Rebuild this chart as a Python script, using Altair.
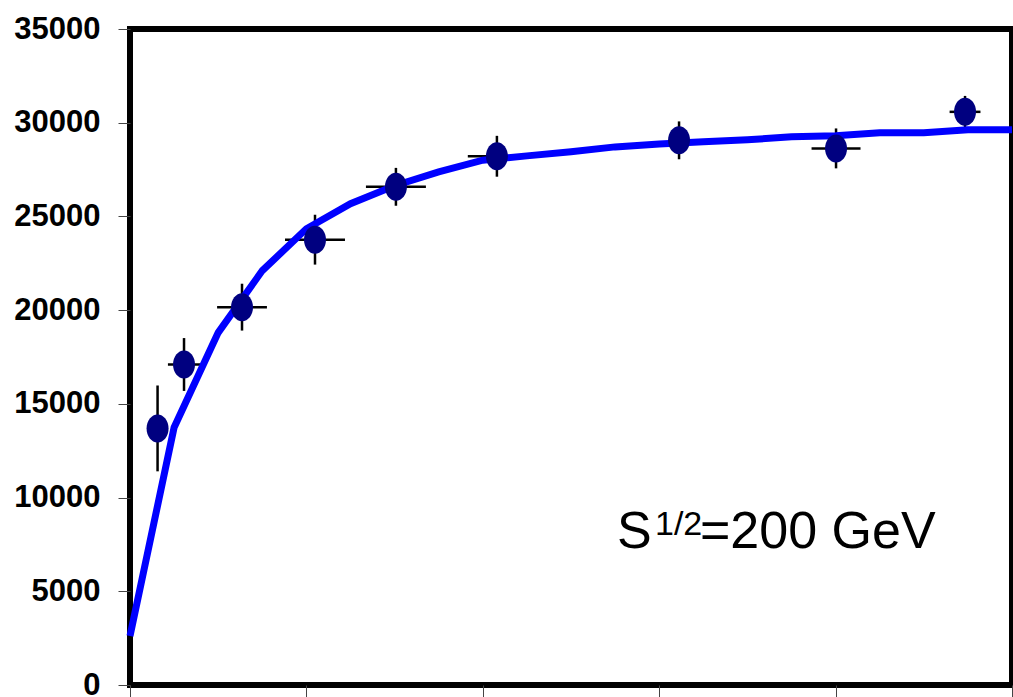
import altair as alt
import pandas as pd

# Data points (x in arbitrary units 0-400, hidden tick labels)
x_pts = [12.5, 24.5, 50.8, 83.9, 120.6, 166.4, 249.0, 320.2, 378.7]
y_pts = [13690, 17100, 20160, 23760, 26580, 28210, 29060, 28630, 30580]
y_err = [2290, 1410, 1250, 1330, 1010, 1090, 1010, 1065, 850]
x_err = [0, 7.3, 11.3, 13.6, 13.6, 13.2, 0, 11.1, 7.0]

# Model curve
curve_x = [0, 20, 40, 60, 80, 100, 120, 140, 160, 180, 200, 220, 240, 260, 280, 300, 320, 340, 360, 380, 400]
curve_y = [2610, 13740, 18800, 22110, 24340, 25680, 26640, 27380, 28000, 28230, 28450,
           28710, 28870, 28980, 29090, 29250, 29300, 29460, 29460, 29620, 29620]

y_ticks = [0, 5000, 10000, 15000, 20000, 25000, 30000, 35000]
x_ticks = [0, 80, 160, 240, 320, 400]

pts = pd.DataFrame({
    "x": x_pts, "y": y_pts,
    "ylo": [a - b for a, b in zip(y_pts, y_err)],
    "yhi": [a + b for a, b in zip(y_pts, y_err)],
    "xlo": [a - b for a, b in zip(x_pts, x_err)],
    "xhi": [a + b for a, b in zip(x_pts, x_err)],
})
curve = pd.DataFrame({"x": curve_x, "y": curve_y})

xs = alt.Scale(domain=[0, 400], nice=False, zero=False)
ys = alt.Scale(domain=[0, 35000], nice=False)

x_axis = alt.Axis(values=x_ticks, labels=False, title=None, domain=False, grid=False,
                  tickSize=12, tickColor="#444", tickWidth=1)
y_axis = alt.Axis(values=y_ticks, title=None, domain=False, grid=False, format="d",
                  tickSize=12, tickColor="#444", tickWidth=1,
                  labelFont="Liberation Sans", labelFontWeight="bold",
                  labelFontSize=31, labelColor="black", labelPadding=18)

base = alt.Chart(pts)

vbars = base.mark_rule(color="black", strokeWidth=2.5).encode(
    x=alt.X("x:Q", scale=xs, axis=x_axis),
    y=alt.Y("ylo:Q", scale=ys, axis=y_axis),
    y2="yhi:Q",
)
hbars = base.mark_rule(color="black", strokeWidth=2.5).encode(
    x=alt.X("xlo:Q", scale=xs),
    x2="xhi:Q",
    y=alt.Y("y:Q", scale=ys),
)
line = alt.Chart(curve).mark_line(color="#0000FF", strokeWidth=7).encode(
    x=alt.X("x:Q", scale=xs),
    y=alt.Y("y:Q", scale=ys),
)
ellipse = "M0,-1 A0.786,1 0 1,1 0,1 A0.786,1 0 1,1 0,-1 Z"
points = base.mark_point(shape=ellipse, size=784, filled=True, color="#000080",
                         opacity=1).encode(
    x=alt.X("x:Q", scale=xs),
    y=alt.Y("y:Q", scale=ys),
)

ann = pd.DataFrame({
    "x": [220.9, 238.1, 258.5],
    "y": [7300, 7990, 7300],
    "t": ["S", "1/2", "=200 GeV"],
    "fs": [52, 34, 52],
})
text_big = alt.Chart(ann[ann.fs == 52]).mark_text(
    font="Liberation Sans", fontSize=52, align="left", baseline="alphabetic", color="black"
).encode(x=alt.X("x:Q", scale=xs), y=alt.Y("y:Q", scale=ys), text="t:N")
text_sup = alt.Chart(ann[ann.fs == 34]).mark_text(
    font="Liberation Sans", fontSize=34, align="left", baseline="alphabetic", color="black"
).encode(x=alt.X("x:Q", scale=xs), y=alt.Y("y:Q", scale=ys), text="t:N")

chart = alt.layer(vbars, hbars, line, points, text_big, text_sup).properties(
    width=882, height=656,
    autosize=alt.AutoSizeParams(type="none"),
    padding={"left": 130, "top": 29, "right": 1, "bottom": 12},
    background="white",
).configure_view(stroke="black", strokeWidth=6)

chart.save("out.html", embed_options={"renderer": "svg", "actions": False})
